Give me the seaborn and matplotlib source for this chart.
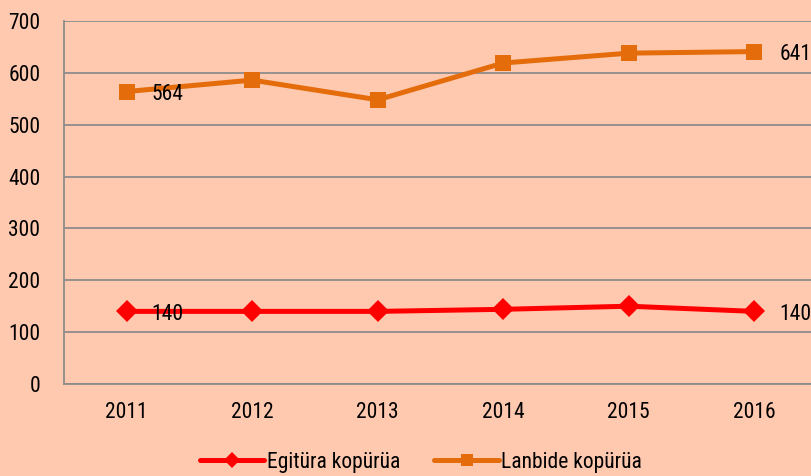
import matplotlib
matplotlib.use("Agg")
import matplotlib.pyplot as plt
import seaborn as sns
import pandas as pd

# data
years = ["2011", "2012", "2013", "2014", "2015", "2016"]
egitura = [140, 140, 140, 144, 150, 140]
lanbide = [564, 586, 548, 619, 638, 641]
series_names = ["Egitüra kopürüa", "Lanbide kopürüa"]

bg = "#FFC9B0"
grid_col = "#8C8C8C"
colors = {"Egitüra kopürüa": "#FF0000", "Lanbide kopürüa": "#E46C0A"}
markers = {"Egitüra kopürüa": "D", "Lanbide kopürüa": "s"}

df = pd.DataFrame({
    "year": years * 2,
    "value": egitura + lanbide,
    "serie": [series_names[0]] * len(years) + [series_names[1]] * len(years),
})

sns.set_style("white")
plt.rcParams["font.family"] = ["Roboto Condensed", "Lato", "DejaVu Sans"]
plt.rcParams["text.color"] = "black"

fig = plt.figure(figsize=(8.11, 4.76), dpi=100, facecolor=bg)
ax = fig.add_axes([0.0789, 0.1933, 0.9285, 0.7626])
ax.set_facecolor(bg)

sns.lineplot(data=df, x="year", y="value", hue="serie", style="serie",
             palette=colors, markers=markers, dashes=False, linewidth=3.6,
             markersize=11, markeredgewidth=0, sort=False, ax=ax)

ax.set_xlim(-0.5, 5.5)
ax.set_ylim(0, 700)
ax.set_yticks(range(0, 701, 100))
ax.yaxis.grid(True, color=grid_col, linewidth=1.3)
ax.set_axisbelow(True)
for s in ["top", "right"]:
    ax.spines[s].set_visible(False)
for s in ["left", "bottom"]:
    ax.spines[s].set_color(grid_col)
    ax.spines[s].set_linewidth(1.3)

ax.set_xticks(range(len(years)))
ax.set_xticklabels(years)
ax.set_xticks([i - 0.5 for i in range(len(years) + 1)], minor=True)
ax.tick_params(axis="x", which="major", length=0, pad=13, labelsize=15.5,
               labelcolor="black")
ax.tick_params(axis="x", which="minor", length=6, width=1.3, color=grid_col)
ax.tick_params(axis="y", length=8, width=1.3, color=grid_col, pad=9,
               labelsize=15.5, labelcolor="black")
ax.set_xlabel("")
ax.set_ylabel("")

# data labels at first and last points
for vals in (egitura, lanbide):
    for i in (0, len(years) - 1):
        ax.annotate(str(vals[i]), (i, vals[i]), xytext=(18, -2),
                    textcoords="offset points", ha="left", va="center",
                    fontsize=15.5, color="black")

handles, labels = ax.get_legend_handles_labels()
ax.legend(handles, labels, loc="center", bbox_to_anchor=(0.474, -0.215),
          ncol=2, frameon=False, fontsize=15.5, handlelength=3.0,
          markerscale=0.75, handletextpad=0.1, columnspacing=1.6)

fig.savefig("out.png", dpi=100, facecolor=bg)
